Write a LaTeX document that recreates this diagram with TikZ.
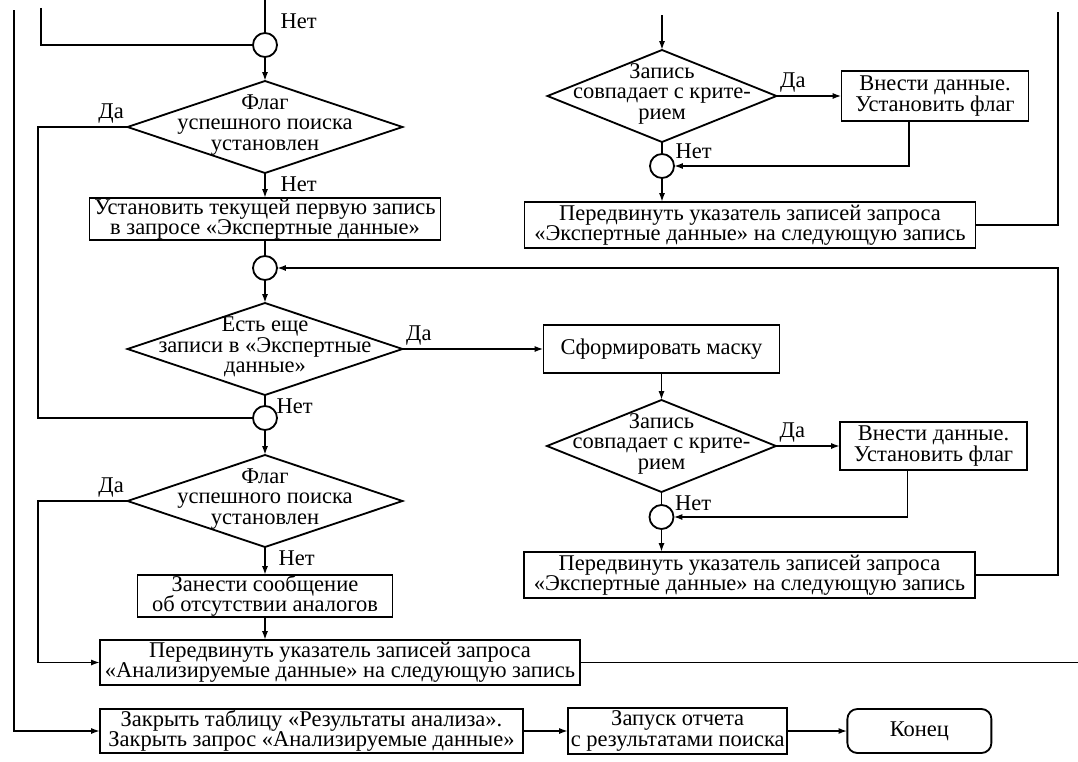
\documentclass[tikz,border=0pt]{standalone}
\usepackage{fontspec}
\setmainfont{Liberation Serif}
\usetikzlibrary{arrows.meta,positioning,shapes.geometric,calc}

\newcommand{\chartfont}{\fontsize{16pt}{14.5pt}\selectfont\lineskiplimit=-3pt\relax}
\newcommand{\dtext}[1]{\smash{\raisebox{-0.2em}{\begin{tabular}{@{}c@{}}#1\end{tabular}}}}

\begin{document}
\begin{tikzpicture}[
  line width=1.3pt,
  font=\chartfont,
  box/.style={rectangle, draw, align=center, inner xsep=2pt, inner ysep=0pt, outer sep=0pt},
  dec/.style={diamond, draw, aspect=3, inner sep=0pt, outer sep=0pt, minimum width=6.875cm, minimum height=2.3cm},
  junc/.style={circle, draw, minimum size=0.6cm, inner sep=0pt, outer sep=0pt},
  term/.style={rectangle, draw, rounded corners=0.25cm, outer sep=0pt, minimum width=3.6cm, minimum height=1.1cm},
  lbl/.style={inner sep=2pt},
  arr/.style={-{Latex[length=2.2mm, width=1.5mm]}},
  node distance=0.6cm and 1.5cm
]
\useasboundingbox (0,0) rectangle (26.95,-19.05);

% left column
\node[junc] (j1) at (6.625,-1.125) {};
\node[dec, below=0.6cm of j1] (flag1) {\dtext{Флаг\\успешного поиска\\установлен}};
\node[box, below=0.625cm of flag1, minimum width=8.775cm, minimum height=1.05cm] (first) {Установить текущей первую запись\\в запросе «Экспертные данные»};
\node[junc, below=0.4cm of first] (j2) {};
\node[dec, below=0.575cm of j2] (more) {\dtext{Есть еще\\записи в «Экспертные\\данные»}};
\node[junc, below=0.275cm of more] (j3) {};
\node[dec, below=0.625cm of j3] (flag2) {\dtext{Флаг\\успешного поиска\\установлен}};
\node[box, below=0.7cm of flag2, minimum width=6.375cm, minimum height=1.05cm] (nomsg) {Занести сообщение\\об отсутствии аналогов};
\node[box, below=0.575cm of nomsg, xshift=1.875cm, minimum width=12cm, minimum height=1.125cm] (nextan) {Передвинуть указатель записей запроса\\«Анализируемые данные» на следующую запись};

% bottom row
\node[box, below=0.6cm of nextan.south west, anchor=north west, minimum width=10.575cm, minimum height=1.1cm] (close) {Закрыть таблицу «Результаты анализа».\\Закрыть запрос «Анализируемые данные»};
\node[box, right=1.125cm of close, minimum width=5.35cm, minimum height=1.15cm] (report) {Запуск отчета\\с результатами поиска};
\node[term, right=1.5cm of report] (fin) {Конец};

% right column, upper part
\node[dec, minimum width=5.725cm] (match1) at (16.55,-2.4) {\dtext{Запись\\совпадает с крите-\\рием}};
\node[box, right=1.625cm of match1, minimum width=4.675cm, minimum height=1.25cm] (put1) {Внести данные.\\Установить флаг};
\node[junc, below=0.3cm of match1] (j5) {};
\node[box, below=0.6cm of j5, xshift=2.2cm, minimum width=11.275cm, minimum height=1.15cm] (nextex1) {Передвинуть указатель записей запроса\\«Экспертные данные» на следующую запись};

% right column, lower part
\node[box, right=3.525cm of more, minimum width=5.9cm, minimum height=1.2cm] (mask) {Сформировать маску};
\node[dec, minimum width=5.725cm, below=0.675cm of mask] (match2) {\dtext{Запись\\совпадает с крите-\\рием}};
\node[box, right=1.6cm of match2, minimum width=4.675cm, minimum height=1.2cm] (put2) {Внести данные.\\Установить флаг};
\node[junc, below=0.325cm of match2] (j4) {};
\node[box, below=0.575cm of j4, xshift=2.2cm, minimum width=11.275cm, minimum height=1.15cm] (nextex2) {Передвинуть указатель записей запроса\\«Экспертные данные» на следующую запись};

% loose ends
\coordinate (intop) at (6.625,0);
\coordinate (inleft) at (1.025,-0.2);
\coordinate (outer) at (0.35,-0.25);
\coordinate (inright) at (16.55,-0.375);
\coordinate (edge) at (26.45,-0.3);
\coordinate (pageend) at (26.95,0);

\draw (intop) -- node[lbl, right=0.3cm, pos=0.65] {Нет} (j1);
\draw (inleft) |- (j1);
\draw[arr] (outer) |- (close);
\draw[arr] (j1) -- (flag1);
\draw[arr] (flag1) -- node[lbl, right=0.3cm, pos=0.45] {Нет} (first);
\draw (flag1.west) -- node[lbl, above left, pos=0] {Да} ++(-2.24,0) |- (j3);
\draw (first) -- (j2);
\draw[arr] (j2) -- (more);
\draw[arr] (more) -- node[lbl, above right, pos=0] {Да} (mask);
\draw (more) -- node[lbl, right=0.2cm, pos=1] {Нет} (j3);
\draw[arr] (j3) -- (flag2);
\draw[arr] (flag2.west) -- node[lbl, above left, pos=0] {Да} ++(-2.24,0) |- (nextan);
\draw[arr] (flag2) -- node[lbl, right=0.25cm, pos=0.4] {Нет} (nomsg);
\draw[arr] (nomsg) -- (nomsg |- nextan.north);
\draw (nextan) -- (nextan -| pageend);
\draw[arr] (close) -- (report);
\draw[arr] (report) -- (fin);

\draw[arr] (inright) -- (match1);
\draw[arr] (match1) -- node[lbl, above right, pos=0] {Да} (put1);
\draw (match1) -- node[lbl, right=0.25cm, pos=0.8] {Нет} (j5);
\draw[arr] ([xshift=-0.65cm]put1.south) |- (j5);
\draw[arr] (j5) -- (j5 |- nextex1.north);
\draw (nextex1) -| (edge);

\draw[arr] (mask) -- (match2);
\draw[arr] (match2) -- node[lbl, above right, pos=0] {Да} (put2);
\draw (match2) -- node[lbl, right=0.25cm, pos=0.85] {Нет} (j4);
\draw[arr] ([xshift=-0.65cm]put2.south) |- (j4);
\draw[arr] (j4) -- (j4 |- nextex2.north);
\draw[arr] (nextex2.east) -- ++(2.075,0) |- (j2);
\end{tikzpicture}
\end{document}
